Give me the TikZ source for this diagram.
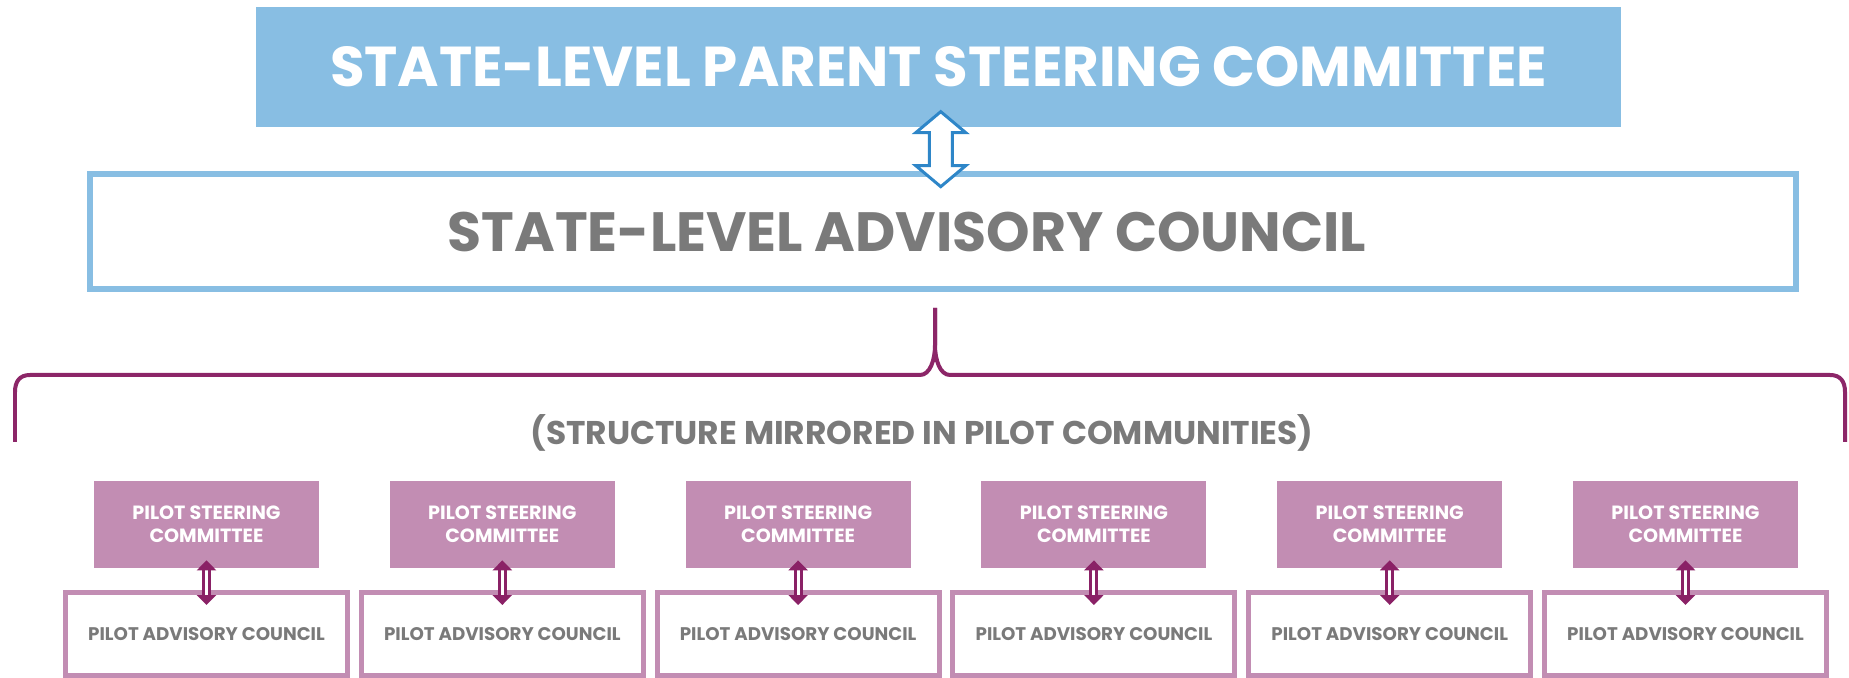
\documentclass[tikz,border=0pt]{standalone}
\usepackage{fontspec}
\setmainfont{Poppins}
\usetikzlibrary{positioning, arrows.meta, calc}
\definecolor{parentblue}{RGB}{136,190,227}
\definecolor{arrowblue}{RGB}{46,134,200}
\definecolor{textgray}{RGB}{122,122,122}
\definecolor{bracepurple}{RGB}{140,38,104}
\definecolor{pilotpink}{RGB}{194,141,179}
\definecolor{pilotdark}{RGB}{138,33,102}
\tikzset{
  parentbox/.style={rectangle, fill=parentblue, minimum width=27.3cm, minimum height=2.4cm, inner sep=0, text=white, font=\bfseries\fontsize{32}{35}\selectfont},
  councilbox/.style={rectangle, draw=parentblue, line width=0.12cm, minimum width=34.12cm, minimum height=2.3cm, inner sep=0},
  councillabel/.style={text=textgray, inner sep=0, font=\bfseries\fontsize{31.5}{34}\selectfont},
  steerbox/.style={rectangle, fill=pilotpink, minimum width=4.5cm, minimum height=1.74cm, inner sep=0, align=center, text=white, font=\bfseries\fontsize{10.9}{13.1}\selectfont},
  pilotbox/.style={rectangle, draw=pilotpink, line width=0.1cm, minimum width=5.64cm, minimum height=1.66cm, inner sep=0, outer sep=0, text=textgray, font=\bfseries\fontsize{10.4}{12}\selectfont},
  pilotarrow/.style={<->, >={Triangle[width=0.38cm, length=0.2cm]}, draw=pilotdark, double=white, double distance=0.06cm, line width=0.06cm},
  brace/.style={draw=bracepurple, line width=0.08cm}
}

\begin{document}
\begin{tikzpicture}[x=0.02cm, y=-0.02cm]
    \useasboundingbox (0,0) rectangle (1849,678);
    % State level
    \node[parentbox] (parent) at (938.5,67) {STATE-LEVEL PARENT STEERING COMMITTEE};
    \node[councilbox] (council) at (943,231.5) {};
    \node[councillabel] (councilname) at ([xshift=-0.72cm]council.center) {STATE-LEVEL ADVISORY COUNCIL};
    \coordinate (mid) at ($(parent.south)!0.5!(council.north)$);
    \draw[arrowblue, line width=0.06cm, fill=white, line join=miter]
        ($(mid)+(0,-37.5)$) -- ++(25,21) -- ++(-13.5,0) -- ++(0,33) -- ++(13.5,0)
        -- ++(-25,21) -- ++(-25,-21) -- ++(13.5,0) -- ++(0,-33) -- ++(-13.5,0) -- cycle;

    % Brace down to the pilots
    \coordinate (tip) at (935,308);
    \draw[brace] (15,442) -- (15,392) .. controls (15,381) and (20,375) .. (30,375)
        -- (920,375) .. controls (930,375) and (935,360) .. (935,345) -- (tip);
    \draw[brace] (tip) -- (935,345) .. controls (935,360) and (940,375) .. (950,375)
        -- (1830,375) .. controls (1840,375) and (1845,381) .. (1845,392) -- (1845,442);
    \node[text=textgray, font=\bfseries\fontsize{18.7}{20}\selectfont] (mirror) at (922,433) {(STRUCTURE MIRRORED IN PILOT COMMUNITIES)};

    % Pilot communities
    \node[steerbox] (steer1) at (206.5,524.5) {PILOT STEERING\\COMMITTEE};
    \node[steerbox] (steer2) at (502.3,524.5) {PILOT STEERING\\COMMITTEE};
    \node[steerbox] (steer3) at (798.1,524.5) {PILOT STEERING\\COMMITTEE};
    \node[steerbox] (steer4) at (1093.9,524.5) {PILOT STEERING\\COMMITTEE};
    \node[steerbox] (steer5) at (1389.7,524.5) {PILOT STEERING\\COMMITTEE};
    \node[steerbox] (steer6) at (1685.5,524.5) {PILOT STEERING\\COMMITTEE};
    \node[pilotbox] (adv1) at (206.5,634) {PILOT ADVISORY COUNCIL};
    \node[pilotbox] (adv2) at (502.3,634) {PILOT ADVISORY COUNCIL};
    \node[pilotbox] (adv3) at (798.1,634) {PILOT ADVISORY COUNCIL};
    \node[pilotbox] (adv4) at (1093.9,634) {PILOT ADVISORY COUNCIL};
    \node[pilotbox] (adv5) at (1389.7,634) {PILOT ADVISORY COUNCIL};
    \node[pilotbox] (adv6) at (1685.5,634) {PILOT ADVISORY COUNCIL};

    % Pilot arrows
    \draw[pilotarrow] ([yshift=0.16cm]steer1.south) -- ([yshift=-0.25cm]adv1.north);
    \draw[pilotarrow] ([yshift=0.16cm]steer2.south) -- ([yshift=-0.25cm]adv2.north);
    \draw[pilotarrow] ([yshift=0.16cm]steer3.south) -- ([yshift=-0.25cm]adv3.north);
    \draw[pilotarrow] ([yshift=0.16cm]steer4.south) -- ([yshift=-0.25cm]adv4.north);
    \draw[pilotarrow] ([yshift=0.16cm]steer5.south) -- ([yshift=-0.25cm]adv5.north);
    \draw[pilotarrow] ([yshift=0.16cm]steer6.south) -- ([yshift=-0.25cm]adv6.north);
\end{tikzpicture}
\end{document}
